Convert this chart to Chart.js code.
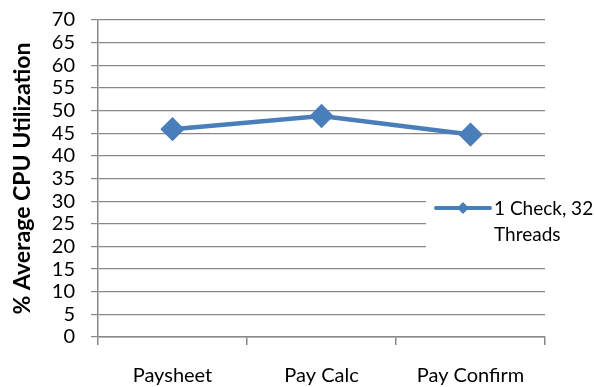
<!DOCTYPE html>
<html lang="en">
<head>
  <meta charset="UTF-8" />
  <title>% Average CPU Utilization</title>
  <script src="https://cdn.jsdelivr.net/npm/chart.js"></script>
  <style>
    html, body { margin: 0; padding: 0; background: #fff; }
    #wrap { width: 594px; height: 387px; }
  </style>
</head>
<body>
  <div id="wrap"><canvas id="myChart" width="594" height="387"></canvas></div>

  <script>
    // data
    const categories = ['Paysheet', 'Pay Calc', 'Pay Confirm'];
    const cpuUtil = [45.9, 48.8, 44.7];
    const seriesName = '1 Check, 32 Threads';
    const seriesLines = ['1 Check, 32', 'Threads'];

    const FONT = 'Lato, "Open Sans", sans-serif';
    const BLUE = '#4a7ebb';
    const GRID = '#888888';

    // legend box drawn over the plot, like the Excel original
    const overlayLegend = {
      id: 'overlayLegend',
      afterDraw(chart) {
        const ctx = chart.ctx;
        ctx.save();
        ctx.fillStyle = '#fff';
        ctx.fillRect(426, 190, 168, 68);
        ctx.strokeStyle = BLUE;
        ctx.lineWidth = 4;
        ctx.lineCap = 'round';
        ctx.beginPath();
        ctx.moveTo(436, 208);
        ctx.lineTo(490, 208);
        ctx.stroke();
        ctx.fillStyle = BLUE;
        ctx.beginPath();
        ctx.moveTo(463, 202);
        ctx.lineTo(469, 208);
        ctx.lineTo(463, 214);
        ctx.lineTo(457, 208);
        ctx.closePath();
        ctx.fill();
        ctx.fillStyle = '#000';
        ctx.font = '19px ' + FONT;
        ctx.textBaseline = 'middle';
        ctx.fillText(seriesLines[0], 494, 209);
        ctx.fillText(seriesLines[1], 494, 235);
        ctx.restore();
      }
    };

    new Chart(document.getElementById('myChart'), {
      type: 'line',
      data: {
        labels: categories,
        datasets: [{
          label: seriesName,
          data: cpuUtil,
          borderColor: BLUE,
          backgroundColor: BLUE,
          borderWidth: 4.5,
          pointStyle: 'rectRot',
          pointRadius: 9,
          pointHoverRadius: 9,
          tension: 0,
          fill: false
        }]
      },
      options: {
        responsive: false,
        animation: false,
        events: [],
        layout: { padding: { top: 20, right: 49, left: 0, bottom: 0 } },
        scales: {
          x: {
            offset: true,
            grid: {
              offset: true,
              drawOnChartArea: false,
              drawTicks: true,
              tickLength: 8,
              color: GRID,
              lineWidth: 1.5
            },
            border: { color: GRID, width: 1.5 },
            ticks: { color: '#000', font: { family: FONT, size: 20 }, padding: 19, autoSkip: false, maxRotation: 0 },
            afterFit(scale) {
              scale.height = 50;
              scale.paddingLeft = 0;
              scale.paddingRight = 0;
            }
          },
          y: {
            min: 0,
            max: 70,
            ticks: { stepSize: 5, autoSkip: false, color: '#000', font: { family: FONT, size: 20 }, padding: 16 },
            grid: { color: GRID, lineWidth: 1.2, tickLength: 7 },
            border: { color: GRID, width: 1.5 },
            title: {
              display: true,
              text: '% Average CPU Utilization',
              color: '#000',
              font: { family: FONT, size: 23, weight: 'bold' },
              padding: { top: 9, bottom: 6 }
            },
            afterFit(scale) {
              scale.width = 98;
              scale.paddingTop = 0;
              scale.paddingBottom = 0;
            }
          }
        },
        plugins: {
          legend: { display: false },
          tooltip: { enabled: false }
        }
      },
      plugins: [overlayLegend]
    });
  </script>
</body>
</html>
